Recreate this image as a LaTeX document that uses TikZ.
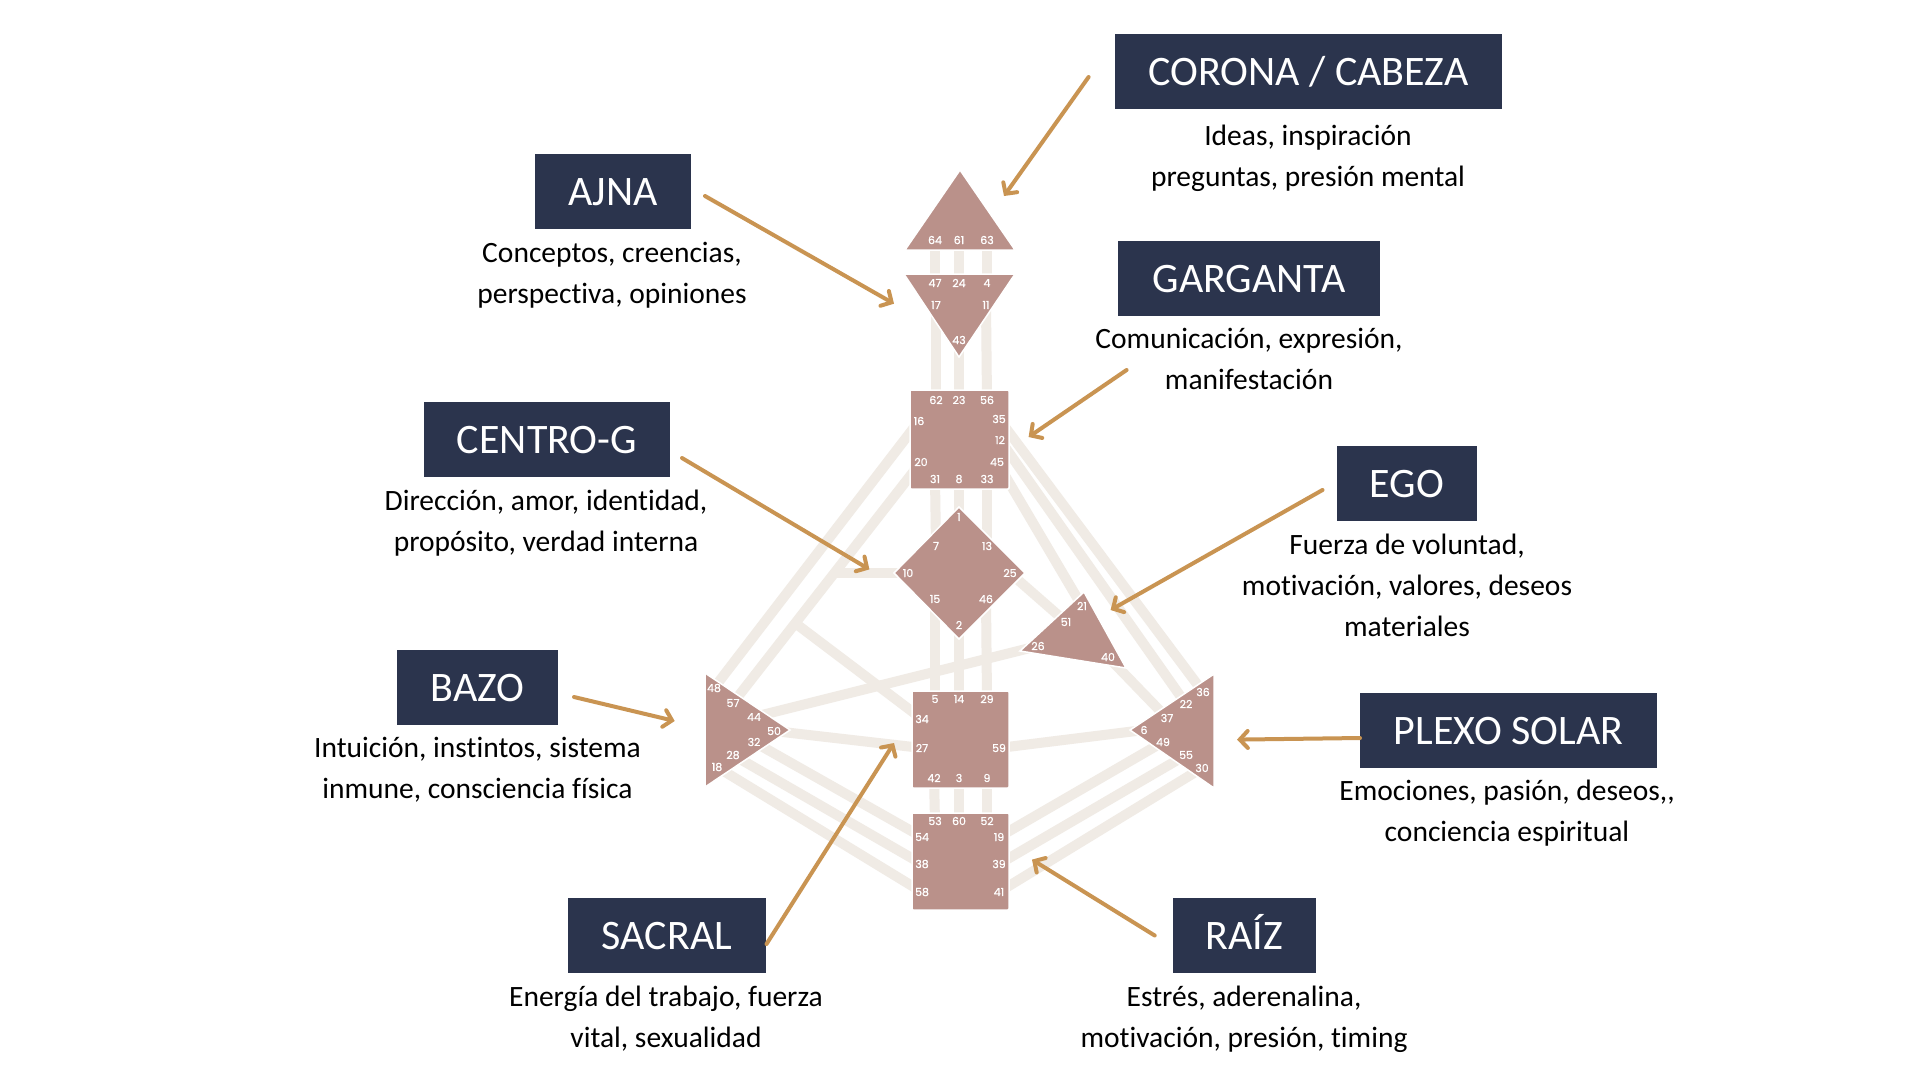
\documentclass[tikz,border=0pt]{standalone}
\usepackage{fontspec}
\setmainfont{Carlito}[Ligatures={TeXOff,NoCommon}]
\newfontfamily\gatefont{Poppins}[FakeBold=0.8]
\usetikzlibrary{arrows.meta}
\definecolor{navy}{HTML}{2B344D}
\definecolor{rose}{HTML}{BA918A}
\definecolor{chan}{HTML}{F0EBE5}
\definecolor{gold}{HTML}{C99452}
\begin{document}
\begin{tikzpicture}[x=1pt,y=-1pt,
  chanline/.style={draw=chan, line width=10pt},
  hdcentre/.style={fill=rose, draw=white, line width=1.5pt},
  gate/.style={text=white, font=\gatefont\fontsize{11}{13}\selectfont, inner sep=0pt},
  titlebox/.style={fill=navy, text=white, minimum height=75pt, inner sep=0pt,
    text height=28pt, text depth=0pt, font=\fontsize{42}{50}\selectfont},
  desc/.style={anchor=north, align=center, inner sep=0pt, font=\fontsize{29.5}{41}\selectfont},
  pointer/.style={draw=gold, line width=4pt, line cap=round,
    -{Straight Barb[length=8pt,width=17pt,line cap=round]}}
]
\fill[white] (0,0) rectangle (1920,1080);
\useasboundingbox (0,0) rectangle (1920,1080);

% gate positions
\foreach \n/\x/\y in {
  64/935/240, 61/959/240, 63/987/240,
  47/935/283, 24/959/283, 4/987/283, 17/936/305, 11/986/305, 43/959/340,
  62/936/400, 23/959/400, 56/987/400, 16/919/421, 35/999/419, 12/1000/440,
  20/921/462, 45/997/462, 31/935/479, 8/959/479, 33/987/479,
  1/959/517, 7/936/546, 13/987/546, 10/908/573, 25/1010/573, 15/935/599, 46/986/599, 2/959/625,
  21/1082/606, 51/1066/622, 26/1038/646, 40/1108/657,
  48/714/688, 57/733/703, 44/754/717, 50/774/731, 32/754/742, 28/733/755, 18/717/767,
  36/1203/692, 22/1186/704, 37/1167/718, 6/1144/730, 49/1163/742, 55/1186/755, 30/1202/768,
  5/935/699, 14/959/699, 29/987/699, 34/922/719, 27/922/748, 59/999/748, 42/934/778, 3/959/778, 9/987/778,
  53/935/821, 60/959/821, 52/987/821, 54/922/837, 19/999/837, 38/922/864, 39/999/864, 58/922/892, 41/999/892}
  {\coordinate (g\n) at (\x,\y);}
\coordinate (j10) at (834,573);
\coordinate (j34) at (795,623);

% channels
\foreach \a/\b in {64/47, 61/24, 63/4, 17/62, 43/23, 11/56, 31/7, 8/1, 33/13, 15/5, 2/14, 46/29,
  42/53, 3/60, 9/52, 16/48, 20/57, 35/36, 12/22, 45/21, 25/51, 26/44, 40/37, 27/50, 59/6,
  54/32, 38/28, 58/18, 19/49, 39/55, 41/30}
  {\draw[chanline] (g\a) -- (g\b);}
\draw[chanline] (j10) -- (g10);
\draw[chanline] (j34) -- (g34);

% centres
\path[hdcentre] (960,170) -- (1015,250) -- (905,250) -- cycle;
\path[hdcentre] (904,274) -- (1015,274) -- (959,357) -- cycle;
\path[hdcentre, rounded corners=1pt] (910,390) rectangle (1009,489);
\path[hdcentre] (959,507) -- (1025,573) -- (959,639) -- (894,573) -- cycle;
\path[hdcentre] (1084,592) -- (1126,668) -- (1020,651) -- cycle;
\path[hdcentre] (705,673) -- (790,730) -- (705,787) -- cycle;
\path[hdcentre] (1214,674) -- (1214,788) -- (1130,730) -- cycle;
\path[hdcentre, rounded corners=1pt] (912,691) rectangle (1009,788);
\path[hdcentre, rounded corners=1pt] (912,813) rectangle (1009,910);

% gate numbers
\foreach \n in {64,61,63,47,24,4,17,11,43,62,23,56,16,35,12,20,45,31,8,33,
  1,7,13,10,25,15,46,2,21,51,26,40,48,57,44,50,32,28,18,36,22,37,6,49,55,30,
  5,14,29,34,27,59,42,3,9,53,60,52,54,19,38,39,58,41}
  {\node[gate] (t\n) at (g\n) {\n};}

% title boxes
\node[titlebox, minimum width=387pt] (corona) at (1308.5,71.5) {CORONA / CABEZA};
\node[titlebox, minimum width=156pt] (ajna) at (613,191.5) {AJNA};
\node[titlebox, minimum width=262pt] (garganta) at (1249,278) {GARGANTA};
\node[titlebox, minimum width=246pt] (centrog) at (547,439.5) {CENTRO-G};
\node[titlebox, minimum width=140pt] (ego) at (1407,483.5) {EGO};
\node[titlebox, minimum width=161pt] (bazo) at (477.5,687) {BAZO};
\node[titlebox, minimum width=297pt] (plexo) at (1508.5,730.5) {PLEXO SOLAR};
\node[titlebox, minimum width=198pt] (sacral) at (667,935.5) {SACRAL};
\node[titlebox, minimum width=143pt] (raiz) at (1244.5,935.5) {RAÍZ};

% descriptions
\node[desc] (dcorona) at (1308,117) {\strut Ideas, inspiración\\\strut preguntas, presión mental};
\node[desc] (dajna) at (612,234) {\strut Conceptos, creencias,\\\strut perspectiva, opiniones};
\node[desc] (dgarganta) at (1249,320) {\strut Comunicación, expresión,\\\strut manifestación};
\node[desc] (dcentrog) at (546,482) {\strut Dirección, amor, identidad,\\\strut propósito, verdad interna};
\node[desc] (dego) at (1407,526) {\strut Fuerza de voluntad,\\\strut motivación, valores, deseos\\\strut materiales};
\node[desc] (dbazo) at (477.5,729) {\strut Intuición, instintos, sistema\\\strut inmune, consciencia física};
\node[desc] (dplexo) at (1507,772) {\strut Emociones, pasión, deseos,,\\\strut conciencia espiritual};
\node[desc] (dsacral) at (666,978) {\strut Energía del trabajo, fuerza\\\strut vital, sexualidad};
\node[desc] (draiz) at (1244,978) {\strut Estrés, aderenalina,\\\strut motivación, presión, timing};

% pointer arrows
\coordinate (s1) at (1088.6,77);   \coordinate (e1) at (1004,196);
\coordinate (s2) at (705,196);     \coordinate (e2) at (894,303.7);
\coordinate (s3) at (1126.6,370);  \coordinate (e3) at (1028.6,437);
\coordinate (s4) at (682,458);     \coordinate (e4) at (869.4,569.4);
\coordinate (s5) at (1322.5,490);  \coordinate (e5) at (1110.6,610);
\coordinate (s6) at (574,697);     \coordinate (e6) at (674.7,721);
\coordinate (s7) at (1360,738);    \coordinate (e7) at (1237,739.6);
\coordinate (s8) at (766.5,944);   \coordinate (e8) at (894,743);
\coordinate (s9) at (1154.7,935.5);\coordinate (e9) at (1032,859.6);
\foreach \i in {1,...,9} {\draw[pointer] (s\i) -- (e\i);}
\end{tikzpicture}
\end{document}
